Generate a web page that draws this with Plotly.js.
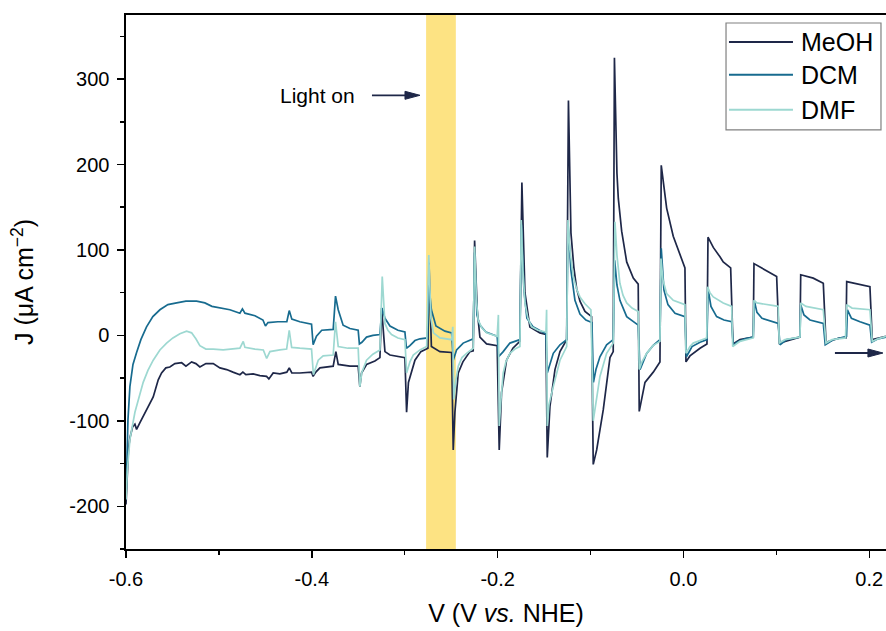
<!DOCTYPE html>
<html><head><meta charset="utf-8">
<script src="https://cdn.plot.ly/plotly-3.0.1.min.js"></script>
<style>html,body{margin:0;padding:0;background:#fff;}#chart{width:886px;height:631px;}</style>
</head><body><div id="chart"></div>
<script>
// ---- data (V vs. NHE, J in µA cm^-2) ----
const seriesNames = ['MeOH', 'DCM', 'DMF'];
const meoh = [[-0.600,-198],[-0.5985,-157],[-0.5974,-134],[-0.5958,-120],[-0.5929,-107],[-0.5904,-104],[-0.5886,-110],[-0.5850,-102],[-0.5815,-95],[-0.5743,-81],[-0.5707,-72],[-0.5653,-52],[-0.5617,-44],[-0.5571,-38],[-0.5528,-37],[-0.5474,-33],[-0.5401,-32],[-0.5355,-36],[-0.5294,-31],[-0.5248,-33],[-0.5205,-37],[-0.5140,-33],[-0.5061,-33],[-0.4989,-38],[-0.4917,-40],[-0.4849,-43],[-0.4774,-46],[-0.4742,-43],[-0.4710,-46],[-0.4631,-45],[-0.4559,-47],[-0.4487,-48],[-0.4462,-51],[-0.4416,-44],[-0.4344,-45],[-0.4269,-43],[-0.4243,-38],[-0.4215,-44],[-0.4129,-44],[-0.4003,-43],[-0.3986,-48],[-0.3957,-43],[-0.3913,-38],[-0.3770,-36],[-0.3741,-19],[-0.3716,-34],[-0.3590,-36],[-0.3501,-36],[-0.3483,-60],[-0.3465,-44],[-0.3411,-34],[-0.3321,-30],[-0.3267,-26],[-0.3249,32],[-0.3213,-19],[-0.3159,-23],[-0.3052,-25],[-0.2998,-26],[-0.2980,-90],[-0.2960,-55],[-0.2890,-29],[-0.2826,-19],[-0.2750,-15],[-0.2739,85],[-0.2713,-13],[-0.2621,-19],[-0.2495,-20],[-0.2478,-134],[-0.2460,-90],[-0.2424,-44],[-0.2374,-31],[-0.2298,-19],[-0.2263,-18],[-0.2248,111],[-0.2220,30],[-0.2191,-2],[-0.2119,-10],[-0.2005,-12],[-0.1983,-134],[-0.1958,-67],[-0.1904,-29],[-0.1836,-15],[-0.1761,-7],[-0.1739,179],[-0.1706,50],[-0.1653,10],[-0.1545,3],[-0.1480,1],[-0.1466,-143],[-0.1437,-83],[-0.1383,-40],[-0.1329,-19],[-0.1257,-5],[-0.1238,275],[-0.1211,120],[-0.1180,80],[-0.1150,55],[-0.1114,40],[-0.1060,28],[-0.0989,22],[-0.0971,-151],[-0.0934,-134],[-0.0863,-87],[-0.0791,-26],[-0.0756,-19],[-0.0743,325],[-0.0716,190],[-0.0701,160],[-0.0665,122],[-0.0611,86],[-0.0540,67],[-0.0487,60],[-0.0476,-89],[-0.0414,-55],[-0.0325,-43],[-0.0253,-31],[-0.0239,199],[-0.0181,149],[-0.0110,116],[-0.0038,94],[0.0016,79],[0.0027,-31],[0.0070,-24],[0.0178,-15],[0.0253,-10],[0.0264,115],[0.0321,103],[0.0393,92],[0.0428,86],[0.0508,79],[0.0533,-10],[0.0608,-5],[0.0751,-2],[0.0759,84],[0.0896,76],[0.1003,69],[0.1031,-9],[0.1146,-5],[0.1254,-2],[0.1262,71],[0.1397,67],[0.1505,61],[0.1534,-8],[0.1685,-3],[0.1749,-3],[0.1757,63],[0.1900,60],[0.2007,57],[0.2032,-5],[0.2180,-1]];
const dcm = [[-0.600,-192],[-0.5990,-134],[-0.5979,-99],[-0.5958,-60],[-0.5925,-34],[-0.5886,-20],[-0.5840,-5],[-0.5779,10],[-0.5711,22],[-0.5635,30],[-0.5549,36],[-0.5455,38],[-0.5355,40],[-0.5240,40],[-0.5151,38],[-0.5075,34],[-0.4989,32],[-0.4882,30],[-0.4774,26],[-0.4747,31],[-0.4720,26],[-0.4612,23],[-0.4526,18],[-0.4499,11],[-0.4472,15],[-0.4365,16],[-0.4269,16],[-0.4243,29],[-0.4215,19],[-0.4129,16],[-0.4003,13],[-0.3986,-11],[-0.3950,-1],[-0.3893,6],[-0.3770,7],[-0.3745,46],[-0.3716,30],[-0.3663,12],[-0.3590,8],[-0.3501,6],[-0.3488,-10],[-0.3461,-8],[-0.3411,-2],[-0.3343,0],[-0.3267,1],[-0.3245,32],[-0.3213,20],[-0.3159,11],[-0.3073,6],[-0.2998,4],[-0.2982,-15],[-0.2944,-12],[-0.2890,-6],[-0.2836,-4],[-0.2756,-3],[-0.2739,58],[-0.2713,30],[-0.2664,11],[-0.2567,5],[-0.2495,3],[-0.2478,-29],[-0.2442,-17],[-0.2371,-9],[-0.2263,-4],[-0.2248,97],[-0.2223,24],[-0.2191,12],[-0.2126,4],[-0.2005,-1],[-0.1990,-25],[-0.1940,-19],[-0.1868,-9],[-0.1760,-5],[-0.1744,130],[-0.1717,53],[-0.1685,20],[-0.1620,10],[-0.1480,2],[-0.1466,-44],[-0.1401,-21],[-0.1329,-11],[-0.1257,-5],[-0.1243,132],[-0.1211,76],[-0.1168,41],[-0.1114,25],[-0.1050,18],[-0.0985,15],[-0.0969,-55],[-0.0942,-40],[-0.0899,-25],[-0.0827,-11],[-0.0756,-5],[-0.0740,88],[-0.0716,59],[-0.0684,41],[-0.0611,22],[-0.0544,16],[-0.0487,12],[-0.0468,-40],[-0.0396,-21],[-0.0328,-12],[-0.0253,-5],[-0.0239,102],[-0.0210,53],[-0.0167,36],[-0.0091,26],[0.0016,22],[0.0032,-25],[0.0092,-13],[0.0178,-8],[0.0253,-5],[0.0264,55],[0.0296,34],[0.0357,22],[0.0436,18],[0.0519,16],[0.0536,-12],[0.0576,-8],[0.0662,-4],[0.0751,-2],[0.0762,41],[0.0791,27],[0.0845,20],[0.0931,17],[0.1020,14],[0.1039,-11],[0.1111,-5],[0.1254,-2],[0.1262,36],[0.1297,24],[0.1362,18],[0.1505,14],[0.1526,-11],[0.1612,-5],[0.1755,-1],[0.1765,30],[0.1808,20],[0.1900,16],[0.2007,12],[0.2026,-8],[0.2094,-4],[0.2180,-2]];
const dmf = [[-0.600,-192],[-0.5985,-157],[-0.5958,-122],[-0.5931,-104],[-0.5904,-90],[-0.5861,-73],[-0.5815,-55],[-0.5764,-41],[-0.5707,-29],[-0.5635,-17],[-0.5563,-9],[-0.5495,-3],[-0.5420,2],[-0.5348,5],[-0.5294,3],[-0.5248,-4],[-0.5205,-12],[-0.5140,-16],[-0.5061,-16],[-0.4954,-17],[-0.4860,-16],[-0.4774,-15],[-0.4738,-7],[-0.4720,-14],[-0.4612,-16],[-0.4522,-17],[-0.4486,-27],[-0.4451,-19],[-0.4344,-17],[-0.4271,-16],[-0.4243,6],[-0.4217,-14],[-0.4129,-15],[-0.4003,-16],[-0.3983,-46],[-0.3957,-36],[-0.3931,-29],[-0.3878,-24],[-0.3770,-23],[-0.3745,16],[-0.3716,-13],[-0.3611,-15],[-0.3501,-15],[-0.3483,-60],[-0.3461,-43],[-0.3411,-29],[-0.3343,-22],[-0.3267,-17],[-0.3242,69],[-0.3213,14],[-0.3181,6],[-0.3142,1],[-0.3073,-3],[-0.2998,-5],[-0.2980,-44],[-0.2944,-31],[-0.2908,-23],[-0.2836,-17],[-0.2764,-13],[-0.2741,94],[-0.2718,20],[-0.2691,3],[-0.2621,-3],[-0.2495,-5],[-0.2483,10],[-0.2472,-75],[-0.2449,-52],[-0.2424,-36],[-0.2384,-26],[-0.2334,-21],[-0.2263,-15],[-0.2248,104],[-0.2228,41],[-0.2210,18],[-0.2170,9],[-0.2119,3],[-0.2005,-1],[-0.1992,24],[-0.1983,-106],[-0.1964,-75],[-0.1940,-44],[-0.1911,-31],[-0.1868,-21],[-0.1814,-16],[-0.1760,-13],[-0.1746,135],[-0.1728,76],[-0.1706,38],[-0.1674,20],[-0.1634,10],[-0.1566,6],[-0.1480,4],[-0.1473,30],[-0.1466,-106],[-0.1448,-81],[-0.1401,-60],[-0.1372,-46],[-0.1329,-29],[-0.1257,-13],[-0.1243,135],[-0.1222,100],[-0.1186,69],[-0.1146,53],[-0.1114,45],[-0.1060,37],[-0.0996,30],[-0.0971,-100],[-0.0942,-81],[-0.0899,-48],[-0.0827,-21],[-0.0756,-9],[-0.0737,133],[-0.0716,94],[-0.0684,61],[-0.0651,47],[-0.0611,38],[-0.0554,32],[-0.0487,28],[-0.0476,-40],[-0.0447,-31],[-0.0396,-21],[-0.0328,-12],[-0.0253,-7],[-0.0242,90],[-0.0221,65],[-0.0181,49],[-0.0110,41],[0.0016,36],[0.0027,-21],[0.0070,-13],[0.0105,-9],[0.0250,-3],[0.0260,57],[0.0285,50],[0.0321,45],[0.0428,38],[0.0519,34],[0.0530,-13],[0.0565,-10],[0.0608,-7],[0.0751,-3],[0.0759,41],[0.0791,38],[0.0859,37],[0.1020,34],[0.1031,-9],[0.1092,-5],[0.1254,-2],[0.1262,38],[0.1319,34],[0.1505,30],[0.1534,-9],[0.1599,-5],[0.1744,-3],[0.1757,36],[0.1814,32],[0.2007,30],[0.2032,-7],[0.2094,-4],[0.2180,-1]];
const xTickVals = [-0.6, -0.4, -0.2, 0.0, 0.2];
const xTickText = ['-0.6', '-0.4', '-0.2', '0.0', '0.2'];
const yTickVals = [-200, -100, 0, 100, 200, 300];
const yTickText = ['-200', '-100', '0', '100', '200', '300'];
const lightOnBand = [-0.277, -0.245];
const lightOnLabel = 'Light on';
const lightOnArrow = {head: -0.2836, J: 281};
const scanArrow = {head: 0.2147, J: -20.6};

// ---- styling ----
const colors = ['#1e2748', '#176b8f', '#9dd8d1'];
const FONT = 'Liberation Sans, Arial, Helvetica, sans-serif';
const allSeries = [meoh, dcm, dmf];

const traces = allSeries.map((s, i) => ({
  type: 'scatter', mode: 'lines', name: seriesNames[i],
  x: s.map(p => p[0]), y: s.map(p => p[1]),
  line: {color: colors[i], width: 1.7},
  showlegend: false, hoverinfo: 'x+y+name'
}));

// custom legend (paper coords)
const legX0 = 0.7895, legX1 = 0.9934, legY0 = 0.785, legY1 = 0.985;
const legRows = [0.9495, 0.8879, 0.8224];
const shapes = [
  {type: 'rect', xref: 'x', yref: 'paper', x0: lightOnBand[0], x1: lightOnBand[1], y0: 0, y1: 1,
   fillcolor: '#fde383', line: {width: 0}, layer: 'below'},
  {type: 'rect', xref: 'paper', yref: 'paper', x0: legX0, x1: legX1, y0: legY0, y1: legY1,
   fillcolor: '#ffffff', line: {color: '#808080', width: 1.2}, layer: 'above'}
];
const annotations = [];
seriesNames.forEach((n, i) => {
  shapes.push({type: 'line', xref: 'paper', yref: 'paper', x0: 0.7934, x1: 0.8776,
    y0: legRows[i], y1: legRows[i], line: {color: colors[i], width: 2}, layer: 'above'});
  annotations.push({xref: 'paper', yref: 'paper', x: 0.8855, y: legRows[i], xanchor: 'left', yanchor: 'middle',
    text: n, showarrow: false, font: {family: FONT, size: 25, color: '#000'}});
});
annotations.push({xref: 'x', yref: 'y', x: -0.3934, y: 281, text: lightOnLabel, showarrow: false,
  xanchor: 'center', yanchor: 'middle', font: {family: FONT, size: 21, color: '#000'}});

// arrows drawn as shapes anchored at their heads (pixel-sized)
[lightOnArrow, scanArrow].forEach(a => {
  shapes.push({type: 'line', xref: 'x', yref: 'y', xsizemode: 'pixel', ysizemode: 'pixel',
    xanchor: a.head, yanchor: a.J, x0: -48, x1: -8, y0: 0, y1: 0,
    line: {color: '#1e2748', width: 1.8}});
  shapes.push({type: 'path', xref: 'x', yref: 'y', xsizemode: 'pixel', ysizemode: 'pixel',
    xanchor: a.head, yanchor: a.J, path: 'M0,0 L-15,4 L-15,-4 Z',
    fillcolor: '#1e2748', line: {color: '#1e2748', width: 1}});
});

const layout = {
  width: 886, height: 631,
  margin: {l: 126, r: 0, t: 15, b: 82},
  paper_bgcolor: '#fff', plot_bgcolor: '#fff',
  font: {family: FONT, size: 20, color: '#000'},
  showlegend: false,
  xaxis: {
    range: [-0.6, 0.218], tickmode: 'array', tickvals: xTickVals, ticktext: xTickText,
    ticks: 'outside', ticklen: 7, tickwidth: 1.5, tickcolor: '#000',
    minor: {tickmode: 'linear', tick0: 0, dtick: 0.1, ticks: 'outside', ticklen: 4, tickwidth: 1.5, tickcolor: '#000'},
    showline: true, linecolor: '#000', linewidth: 1.6, mirror: true,
    showgrid: false, zeroline: false, ticklabelstandoff: 4,
    tickfont: {family: FONT, size: 20},
    title: {text: 'V (V <i>vs.</i> NHE)', font: {family: FONT, size: 25}, standoff: 16}
  },
  yaxis: {
    range: [-250, 375], tickmode: 'array', tickvals: yTickVals, ticktext: yTickText,
    ticks: 'outside', ticklen: 7, tickwidth: 1.5, tickcolor: '#000',
    minor: {tickmode: 'linear', tick0: 0, dtick: 50, ticks: 'outside', ticklen: 4, tickwidth: 1.5, tickcolor: '#000'},
    showline: true, linecolor: '#000', linewidth: 1.6, mirror: false,
    showgrid: false, zeroline: false, ticklabelstandoff: 4,
    tickfont: {family: FONT, size: 20},
    title: {text: 'J (μA cm<sup>−2</sup>)', font: {family: FONT, size: 25}, standoff: 28}
  },
  shapes: shapes, annotations: annotations
};
Plotly.newPlot('chart', traces, layout, {displayModeBar: false, staticPlot: true});
</script></body></html>
